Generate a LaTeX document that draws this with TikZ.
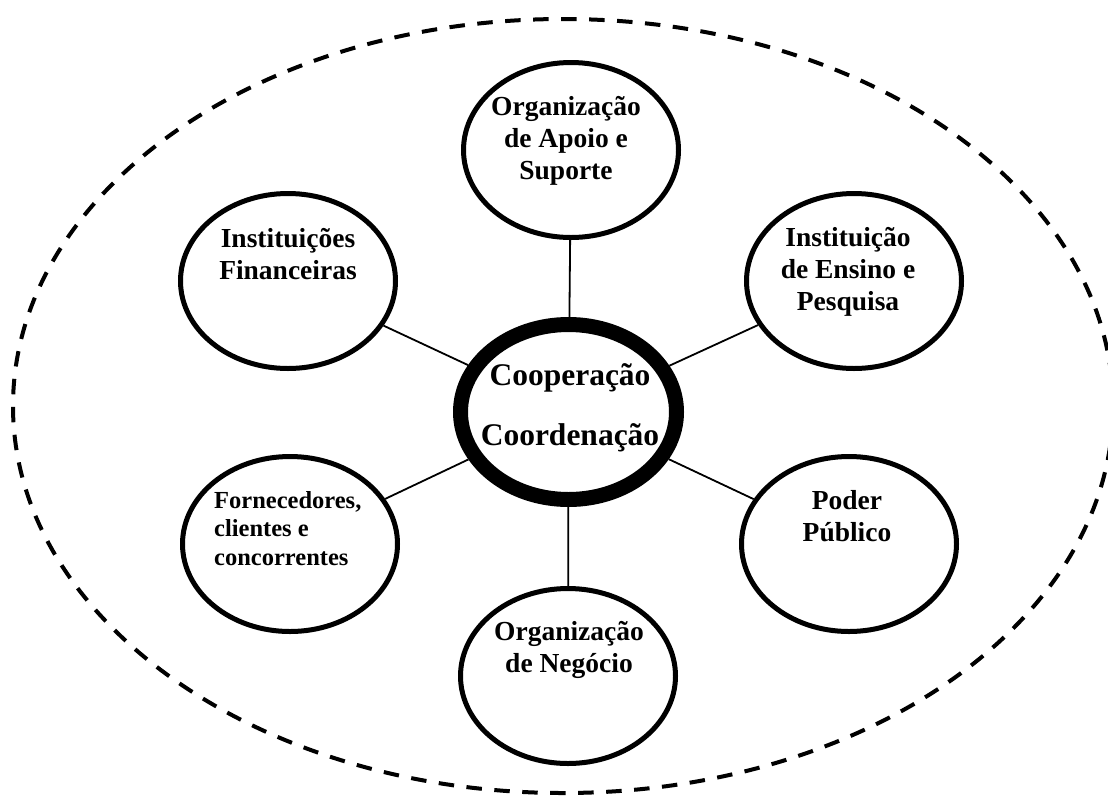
\documentclass[tikz,border=0pt]{standalone}
\usepackage{fontspec}
\setmainfont{Liberation Serif}
\usetikzlibrary{shapes.geometric}
\begin{document}
\begin{tikzpicture}[x=1pt,y=-1pt,
  blob/.style={draw, ellipse, line width=5pt, outer sep=2.5pt, minimum width=215pt, minimum height=175pt, inner sep=0pt},
  core/.style={draw, ellipse, line width=15pt, outer sep=7.5pt, minimum width=216pt, minimum height=175pt, inner sep=0pt},
  boundary/.style={draw, ellipse, line width=4pt, dash pattern=on 15.5pt off 12.5pt, minimum width=1100pt, minimum height=774pt, inner sep=0pt},
  conn/.style={line width=1.8pt},
  lbl/.style={anchor=base, inner sep=0pt, font=\fontsize{27.5}{32}\selectfont\bfseries},
  smalllbl/.style={anchor=base west, inner sep=0pt, font=\fontsize{24.5}{28.5}\selectfont\bfseries},
  corelbl/.style={anchor=base, inner sep=0pt, font=\fontsize{31.5}{60}\selectfont\bfseries}
]
\useasboundingbox (0,0) rectangle (1108,796);
\node[boundary] (outer) at (563,406) {};

\node[core] (mid) at (568.5,412) {};
\node[blob] (top) at (571,150) {};
\node[blob] (fin) at (288,281) {};
\node[blob] (ens) at (854,281) {};
\node[blob] (forn) at (290,544) {};
\node[blob] (pod) at (849,544) {};
\node[blob] (neg) at (568,676) {};

\draw[conn] (top) -- (mid);
\draw[conn] (fin) -- (mid);
\draw[conn] (ens) -- (mid);
\draw[conn] (forn) -- (mid);
\draw[conn] (pod) -- (mid);
\draw[conn] (neg) -- (mid);

\node[corelbl] (tmid) at (570,385) {\begin{tabular}[t]{@{}c@{}}Cooperação\\Coordenação\end{tabular}};
\node[lbl] (ttop) at (566,115) {\begin{tabular}[t]{@{}c@{}}Organização\\de Apoio e\\Suporte\end{tabular}};
\node[lbl] (tfin) at (288,247) {\begin{tabular}[t]{@{}c@{}}Instituições\\Financeiras\end{tabular}};
\node[lbl] (tens) at (848,246) {\begin{tabular}[t]{@{}c@{}}Instituição\\de Ensino e\\Pesquisa\end{tabular}};
\node[smalllbl] (tforn) at (214,508) {\begin{tabular}[t]{@{}l@{}}Fornecedores,\\clientes e\\concorrentes\end{tabular}};
\node[lbl] (tpod) at (847,509) {\begin{tabular}[t]{@{}c@{}}Poder\\Público\end{tabular}};
\node[lbl] (tneg) at (569,640) {\begin{tabular}[t]{@{}c@{}}Organização\\de Negócio\end{tabular}};
\end{tikzpicture}
\end{document}
